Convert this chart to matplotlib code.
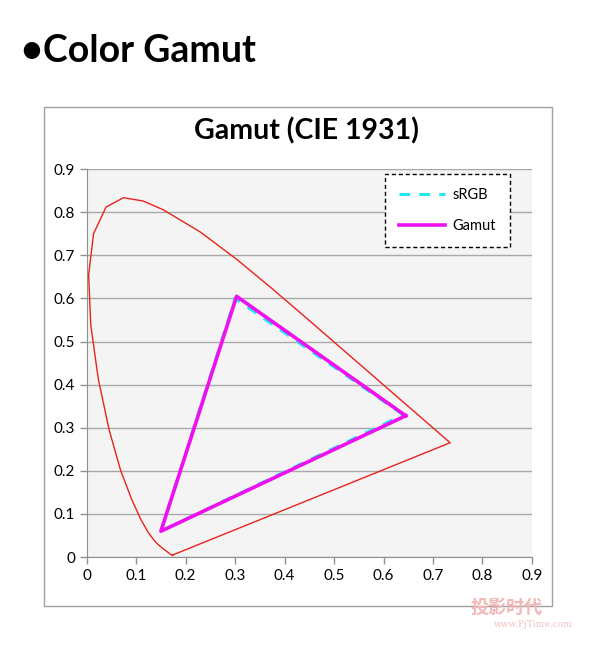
import matplotlib.pyplot as plt
from matplotlib.patches import Rectangle

# CIE 1931 spectral locus (x, y) as drawn, closed by the purple line
locus_x = [0.1741, 0.1733, 0.1738, 0.1714, 0.1689, 0.1644, 0.1566, 0.1510, 0.1440,
           0.1355, 0.1241, 0.1096, 0.0913, 0.0687, 0.0454, 0.0235, 0.0082, 0.0039,
           0.0139, 0.0389, 0.0743, 0.1142, 0.1547, 0.2296, 0.3016, 0.3731, 0.4441,
           0.5125, 0.5752, 0.6270, 0.6658, 0.6915, 0.7079, 0.7190, 0.7260, 0.7347,
           0.1741]
locus_y = [0.0050, 0.0048, 0.0049, 0.0051, 0.0069, 0.0109, 0.0177, 0.0227, 0.0297,
           0.0399, 0.0578, 0.0868, 0.1327, 0.2007, 0.2950, 0.4127, 0.5384, 0.6548,
           0.7502, 0.8120, 0.8338, 0.8262, 0.8059, 0.7543, 0.6923, 0.6245, 0.5547,
           0.4866, 0.4242, 0.3725, 0.3340, 0.3083, 0.2920, 0.2809, 0.2740, 0.2653,
           0.0050]

# triangles: red, green, blue, back to red
srgb_x = [0.64, 0.30, 0.15, 0.64]
srgb_y = [0.33, 0.60, 0.06, 0.33]
gamut_x = [0.645, 0.303, 0.150, 0.645]
gamut_y = [0.328, 0.605, 0.060, 0.328]

ticks = [0, 0.1, 0.2, 0.3, 0.4, 0.5, 0.6, 0.7, 0.8, 0.9]
tick_labels = ['0', '0.1', '0.2', '0.3', '0.4', '0.5', '0.6', '0.7', '0.8', '0.9']

plt.rcParams['font.family'] = ['Lato', 'DejaVu Sans']

fig = plt.figure(figsize=(6, 6.48), dpi=100)

# slide title
fig.text(0.035, 0.922, '\u2022Color Gamut', fontsize=27, fontweight='bold',
         va='center', ha='left')

# chart frame
fig.patches.append(Rectangle((44 / 600, 1 - 606 / 648), 508 / 600, 499 / 648,
                             transform=fig.transFigure, fill=False,
                             edgecolor='#a0a0a0', linewidth=1))
fig.text(0.51, 1 - 131 / 648, 'Gamut (CIE 1931)', fontsize=20.5, fontweight='bold',
         ha='center', va='center')

ax = fig.add_axes([0.1445, 0.1403, 0.742, 0.5986])
ax.set_facecolor('#f4f4f4')
ax.plot(locus_x, locus_y, color='#e8231c', linewidth=1, zorder=3)
ax.plot(srgb_x, srgb_y, color='#22e6f0', linewidth=2.2, linestyle=(0, (3.5, 3)),
        label='sRGB', zorder=4)
ax.plot(gamut_x, gamut_y, color='#ee10ee', linewidth=2.6, label='Gamut', zorder=5)

ax.set_xlim(0, 0.9)
ax.set_ylim(0, 0.9)
ax.set_xticks(ticks)
ax.set_xticklabels(tick_labels)
ax.set_yticks(ticks)
ax.set_yticklabels(tick_labels)
ax.tick_params(labelsize=11, color='#909090', length=5, width=1)
ax.grid(axis='y', color='#a8a8a8', linewidth=1)
ax.set_axisbelow(True)
for side in ['top', 'right']:
    ax.spines[side].set_visible(False)
for side in ['left', 'bottom']:
    ax.spines[side].set_color('#909090')

leg = ax.legend(loc='upper right', bbox_to_anchor=(0.957, 0.995), fontsize=10.5,
                frameon=True, fancybox=False, handlelength=3.2, labelspacing=1.15,
                borderpad=0.95, handletextpad=0.5, borderaxespad=0.2)
frame = leg.get_frame()
frame.set_edgecolor('black')
frame.set_linestyle((0, (3, 2)))
frame.set_linewidth(1)
frame.set_facecolor('white')
frame.set_alpha(1)

# watermark
fig.text(0.905, 0.062, '投影时代', fontsize=13, color='#f2b8b8', ha='right',
         va='center', family=['Noto Sans CJK SC', 'DejaVu Sans'], fontweight='bold')
fig.text(0.955, 0.036, 'www.PjTime.com', fontsize=6.5, color='#f0c0c0', ha='right',
         va='center', family='DejaVu Serif')

fig.savefig('out.png', dpi=100)
